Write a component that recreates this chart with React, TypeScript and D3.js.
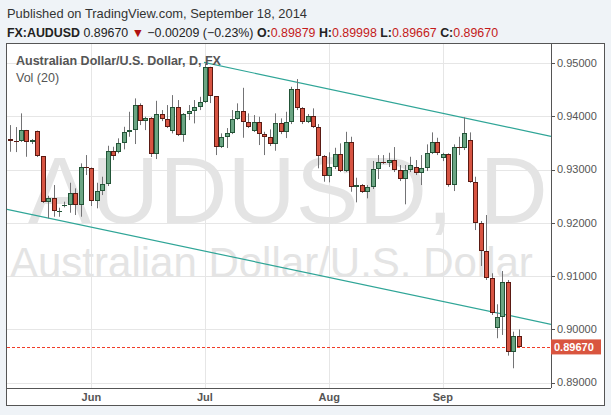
import React from 'react';
import * as d3 from 'd3';

const opens = [0.93573,0.93536,0.93530,0.93737,0.93517,0.93724,0.93249,0.92385,0.92460,0.92216,0.92330,0.92335,0.92554,0.92335,0.93048,0.93024,0.92410,0.92603,0.92729,0.93354,0.93335,0.93504,0.93705,0.93742,0.94212,0.93911,0.93962,0.93292,0.94043,0.93943,0.93718,0.94169,0.93643,0.94037,0.94099,0.94180,0.94262,0.94919,0.94375,0.93418,0.93605,0.93680,0.93943,0.94099,0.93898,0.93729,0.93887,0.93662,0.93617,0.93474,0.93868,0.93699,0.93887,0.94506,0.94150,0.93887,0.94011,0.93793,0.93260,0.92885,0.93042,0.93286,0.92978,0.93512,0.92667,0.92710,0.92584,0.92667,0.93005,0.93140,0.93130,0.93174,0.92986,0.92817,0.92986,0.93050,0.92930,0.93024,0.93305,0.93512,0.93211,0.93286,0.92710,0.93418,0.93405,0.93555,0.92772,0.91991,0.91477,0.90959,0.90020,0.90227,0.90895,0.89570,0.89879];
const highs = [0.93836,0.93799,0.94056,0.93745,0.93573,0.93733,0.93254,0.92509,0.92710,0.92284,0.92397,0.92753,0.92648,0.93117,0.93273,0.93040,0.92753,0.92866,0.93448,0.93429,0.93587,0.93804,0.94086,0.94337,0.94244,0.93992,0.93986,0.94292,0.94118,0.94212,0.94399,0.94306,0.94062,0.94212,0.94306,0.94367,0.94991,0.94931,0.94381,0.93680,0.93780,0.94118,0.94244,0.94536,0.94056,0.94024,0.93992,0.93710,0.93755,0.94056,0.93962,0.94086,0.94555,0.94700,0.94174,0.94043,0.94150,0.93855,0.93273,0.93324,0.93410,0.93493,0.93710,0.93617,0.92847,0.92729,0.92710,0.93161,0.93273,0.93273,0.93316,0.93423,0.93085,0.93085,0.93241,0.93179,0.93273,0.93474,0.93699,0.93598,0.93316,0.93305,0.93474,0.93617,0.93981,0.93699,0.92866,0.92034,0.92147,0.91053,0.90471,0.91096,0.90927,0.89956,0.89998];
const lows = [0.93335,0.93329,0.93520,0.93241,0.93480,0.93236,0.92372,0.92085,0.92115,0.92115,0.92291,0.92190,0.92147,0.92115,0.92898,0.92316,0.92273,0.92522,0.92691,0.93179,0.93305,0.93380,0.93617,0.93480,0.93836,0.93742,0.93236,0.93198,0.93911,0.93780,0.93680,0.93630,0.93523,0.93930,0.93868,0.94118,0.94249,0.94249,0.93273,0.93405,0.93405,0.93667,0.93930,0.93598,0.93780,0.93705,0.93461,0.93273,0.93442,0.93354,0.93667,0.93592,0.93855,0.94118,0.93855,0.93874,0.93780,0.93024,0.92772,0.92761,0.93010,0.92954,0.92954,0.92584,0.92385,0.92560,0.92460,0.92635,0.92823,0.93104,0.93048,0.92954,0.92785,0.92348,0.92954,0.92898,0.92710,0.92973,0.93292,0.93273,0.93160,0.92678,0.92597,0.93273,0.93367,0.92753,0.91865,0.91190,0.90927,0.90270,0.89833,0.89895,0.89506,0.89269,0.89667];
const closes = [0.93530,0.93527,0.93737,0.93523,0.93549,0.93254,0.92385,0.92460,0.92222,0.92225,0.92338,0.92554,0.92335,0.93042,0.93040,0.92410,0.92603,0.92729,0.93354,0.93254,0.93504,0.93705,0.93742,0.94212,0.93911,0.93962,0.93292,0.94043,0.93943,0.93793,0.94169,0.93643,0.94037,0.94099,0.94180,0.94262,0.94919,0.94375,0.93418,0.93605,0.93680,0.93943,0.94099,0.93898,0.93804,0.93887,0.93662,0.93617,0.93474,0.93868,0.93699,0.93887,0.94506,0.94150,0.93887,0.94011,0.93793,0.93260,0.92885,0.93042,0.93286,0.92978,0.93512,0.92667,0.92710,0.92584,0.92667,0.93005,0.93136,0.93130,0.93174,0.92986,0.92817,0.92986,0.93091,0.92930,0.93024,0.93305,0.93512,0.93305,0.93286,0.92710,0.93418,0.93405,0.93680,0.92772,0.91991,0.91477,0.90959,0.90302,0.90227,0.90895,0.89570,0.89879,0.89670];

const monthLabels = ['Jun', 'Jul', 'Aug', 'Sep'];
const monthIndex = [15, 36, 59, 80];
const priceTicks = [0.89, 0.90, 0.91, 0.92, 0.93, 0.94, 0.95];
const upperTrend: [number, number][] = [[35.83, 0.95013], [100, 0.93624]];
const lowerTrend: [number, number][] = [[-0.6, 0.92254], [100, 0.90095]];
const lastPrice = 0.8967;

const L = 7, R = 551, T = 44, B = 388;
const FONT = "'Liberation Sans', Arial, sans-serif";
const UP_FILL = '#6ba583', UP_LINE = '#225437';
const DN_FILL = '#d75442', DN_LINE = '#5b1a13';

export default function App() {
  const x = d3.scaleLinear().domain([-0.6, 100]).range([L, R]);
  const y = d3.scaleLinear().domain([0.89, 0.95]).range([382.6, 63.1]);
  const fmt = d3.format('.5f');
  const line = d3.line<[number, number]>().x(d => x(d[0])).y(d => y(d[1]));

  return (
    <svg width={611} height={415} style={{ position: 'absolute', left: 0, top: 0 }}
      fontFamily={FONT}>
      <defs>
        <clipPath id="plot"><rect x={L} y={T} width={R - L} height={B - T} /></clipPath>
      </defs>
      <rect x={0} y={0} width={611} height={415} fill="#eff3f7" />
      <text x={7} y={17.5} fontSize={12.9} fill="#333">Published on TradingView.com, September 18, 2014</text>
      <text x={7} y={36.5} fontSize={12.4} fill="#222">
        <tspan fontWeight="bold">FX:AUDUSD</tspan>
        <tspan> 0.89670 </tspan>
        <tspan fill="#b01010">▼</tspan>
        <tspan> −0.00209 (−0.23%) </tspan>
        <tspan fontWeight="bold">O:</tspan>
        <tspan fill="#c41a1a">0.89879 </tspan>
        <tspan fontWeight="bold">H:</tspan>
        <tspan fill="#c41a1a">0.89998 </tspan>
        <tspan fontWeight="bold">L:</tspan>
        <tspan fill="#c41a1a">0.89667 </tspan>
        <tspan fontWeight="bold">C:</tspan>
        <tspan fill="#c41a1a">0.89670</tspan>
      </text>
      <rect x={6.5} y={43.5} width={598} height={362} fill="#fff" stroke="#555" />
      <g clipPath="url(#plot)">
        {priceTicks.map(p => (
          <line key={p} x1={L} x2={R} y1={Math.round(y(p)) + 0.5} y2={Math.round(y(p)) + 0.5} stroke="#e6e6e6" />
        ))}
        {monthIndex.map(i => (
          <line key={i} x1={Math.round(x(i)) + 0.5} x2={Math.round(x(i)) + 0.5} y1={T} y2={B} stroke="#e6e6e6" />
        ))}
        <text x={28} y={223} fontSize={94.5} fill="#e4e4e4">AUDUSD, D</text>
        <text x={10} y={277} fontSize={42} fill="#e4e4e4">Australian Dollar/U.S. Dollar</text>
        <path d={line(upperTrend) || ''} stroke="#2fa597" strokeWidth={1.2} fill="none" />
        <path d={line(lowerTrend) || ''} stroke="#2fa597" strokeWidth={1.2} fill="none" />
        <line x1={L} x2={R} y1={Math.round(y(lastPrice)) + 0.5} y2={Math.round(y(lastPrice)) + 0.5}
          stroke="#f03c28" strokeDasharray="3,2" />
        {opens.map((o, i) => {
          const c = closes[i];
          const up = c >= o;
          const px = Math.round(x(i));
          const top = Math.round(y(Math.max(o, c)));
          const bot = Math.round(y(Math.min(o, c)));
          const h = Math.max(bot - top, 1);
          return (
            <g key={i}>
              <line x1={px + 0.5} x2={px + 0.5} y1={y(highs[i])} y2={y(lows[i])} stroke="#737375" />
              <rect x={px - 1.5} y={top + 0.5} width={4} height={h - 1 > 0 ? h - 1 : 0.01}
                fill={up ? UP_FILL : DN_FILL} stroke={up ? UP_LINE : DN_LINE} />
            </g>
          );
        })}
      </g>
      <text x={16} y={65} fontSize={12.5} fontWeight="bold" fill="#555">Australian Dollar/U.S. Dollar, D, FX</text>
      <text x={16} y={82} fontSize={12.5} fill="#555">Vol (20)</text>
      <line x1={R + 0.5} x2={R + 0.5} y1={T} y2={B} stroke="#555" />
      <line x1={6} x2={R} y1={B + 0.5} y2={B + 0.5} stroke="#555" />
      {priceTicks.map(p => (
        <g key={p}>
          <line x1={R} x2={R + 4} y1={Math.round(y(p)) + 0.5} y2={Math.round(y(p)) + 0.5} stroke="#555" />
          <text x={557} y={y(p)} dy="0.35em" fontSize={11} fill="#555">{fmt(p)}</text>
        </g>
      ))}
      <rect x={551} y={y(lastPrice) - 7.5} width={50} height={15} fill="#d9553f" />
      <text x={554} y={y(lastPrice)} dy="0.36em" fontSize={11} fontWeight="bold" fill="#fff">{fmt(lastPrice)}</text>
      {monthIndex.map((i, k) => (
        <text key={i} x={x(i)} y={401} textAnchor="middle" fontSize={11} fontWeight="bold" fill="#555">{monthLabels[k]}</text>
      ))}
    </svg>
  );
}
